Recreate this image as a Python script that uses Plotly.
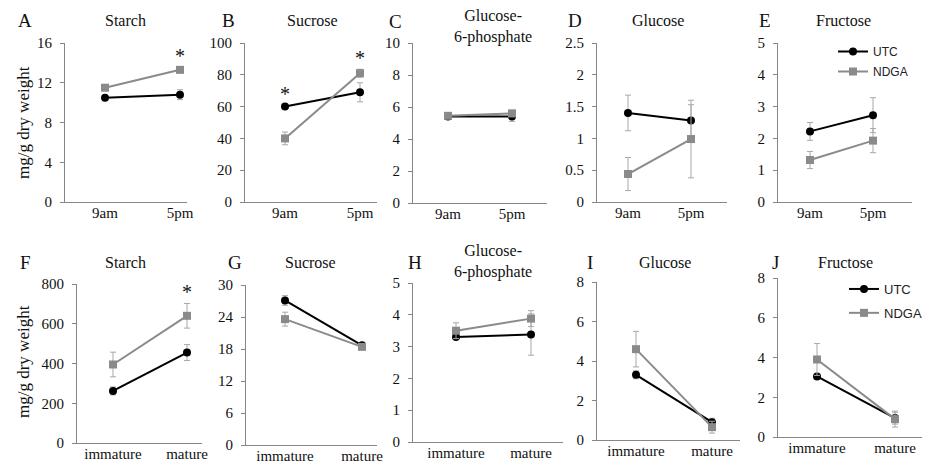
import plotly.graph_objects as go

# ---------------- data ----------------
PANELS = ["A", "B", "C", "D", "E", "F", "G", "H", "I", "J"]
TITLES = ["Starch", "Sucrose", "Glucose-<br>6-phosphate", "Glucose", "Fructose",
          "Starch", "Sucrose", "Glucose-<br>6-phosphate", "Glucose", "Fructose"]
CATS_TOP = ["9am", "5pm"]
CATS_BOTTOM = ["immature", "mature"]

UTC_MEAN = [[10.5, 10.8], [60, 69], [5.4, 5.4], [1.4, 1.28], [2.22, 2.73],
            [262, 455], [27.1, 18.7], [3.3, 3.38], [3.3, 0.9], [3.05, 0.95]]
UTC_ERR = [[0.2, 0.5], [1.0, 6.0], [0.15, 0.3], [0.28, 0.25], [0.28, 0.55],
           [20, 40], [0.9, 0.4], [0.05, 0.65], [0.2, 0.2], [0.1, 0.3]]
NDGA_MEAN = [[11.5, 13.3], [40, 81], [5.45, 5.6], [0.44, 0.99], [1.32, 1.93],
             [395, 640], [23.6, 18.4], [3.5, 3.88], [4.6, 0.65], [3.9, 0.9]]
NDGA_ERR = [[0.2, 0.3], [4.0, 2.5], [0.15, 0.2], [0.26, 0.61], [0.27, 0.38],
            [62, 62], [1.3, 0.5], [0.25, 0.25], [0.9, 0.3], [0.8, 0.4]]

Y_MAX = [16, 100, 10, 2.5, 5, 800, 30, 5, 8, 8]
Y_STEP = [4, 20, 2, 0.5, 1, 200, 6, 1, 2, 2]

# significance stars: (panel index, series, category index)
STARS = [(0, "NDGA", 1), (1, "UTC", 0), (1, "NDGA", 1), (5, "NDGA", 1)]

# ---------------- layout geometry (page pixels) ----------------
OFF = 8            # default page margin around the plot div
W, H = 930 - OFF, 470 - OFF
XDOM = [(65, 187), (245, 377), (413, 547), (597, 727), (778, 912),
        (77, 202), (246, 377), (413, 563), (597, 740), (778, 922)]
PTS = [(105, 180), (285, 360), (448, 512), (628, 691), (810, 873),
       (113, 187), (285, 362), (456, 531), (636, 712), (817, 895)]
YDOM = [(43, 202), (43, 202), (43, 203), (43, 202), (43, 202),
        (284, 443), (285, 445), (283, 442), (282, 440), (278, 437)]
LETTER_POS = [(25, 20), (228, 20), (395, 22), (575, 20), (765, 20),
              (25, 262), (235, 262), (415, 262), (590, 262), (775, 262)]
TITLE_POS = [(125, 20), (312, 20), (493, 27), (658, 20), (843, 20),
             (125, 262), (310, 262), (493, 261), (665, 262), (845, 262)]

SERIF = "Liberation Serif"
UTC_COLOR = "#000000"
NDGA_COLOR = "#8a8a8a"
ERR_COLOR = "#a8a8a8"
AXIS_COLOR = "#868686"


def fx(x):
    return (x - OFF) / W


def fy(y):
    return 1 - (y - OFF) / H


fig = go.Figure()
annotations = []

for i in range(10):
    ax = "" if i == 0 else str(i + 1)
    cats = CATS_TOP if i < 5 else CATS_BOTTOM
    legend_name = "legend" if i == 4 else ("legend2" if i == 9 else None)
    show = legend_name is not None
    series = [
        ("UTC", UTC_MEAN[i], UTC_ERR[i], UTC_COLOR, "circle"),
        ("NDGA", NDGA_MEAN[i], NDGA_ERR[i], NDGA_COLOR, "square"),
    ]
    for name, mean, err, color, symbol in series:
        tr = dict(
            x=[0, 1], y=mean, name=name, mode="lines+markers",
            line=dict(color=color, width=2),
            marker=dict(color=color, symbol=symbol, size=8),
            error_y=dict(type="data", array=err, visible=True,
                         color=ERR_COLOR, thickness=1, width=3),
            xaxis="x" + ax, yaxis="y" + ax,
            showlegend=show, hoverinfo="skip",
            legendgroup=name + str(i),
        )
        if show:
            tr["legend"] = legend_name
        fig.add_trace(go.Scatter(**tr))

    x0, x1 = XDOM[i]
    p0, p1 = PTS[i]
    u = p1 - p0
    yt, yb = YDOM[i]
    nt = int(round(Y_MAX[i] / Y_STEP[i]))
    tv = [k * Y_STEP[i] for k in range(nt + 1)]
    tt = [("%g" % v) for v in tv]

    fig.update_layout(**{
        "xaxis" + ax: dict(
            domain=[fx(x0), fx(x1)], range=[(x0 - p0) / u, (x1 - p0) / u],
            anchor="y" + ax, tickvals=[0, 1], ticktext=cats,
            showline=True, linecolor=AXIS_COLOR, linewidth=1,
            showgrid=False, zeroline=False, ticks="", automargin=False,
            ticklabelstandoff=-3,
            tickfont=dict(family=SERIF, size=15, color="#111"),
            fixedrange=True,
        ),
        "yaxis" + ax: dict(
            domain=[fy(yb), fy(yt)], range=[0, Y_MAX[i]],
            anchor="x" + ax, tickvals=tv, ticktext=tt,
            showline=True, linecolor=AXIS_COLOR, linewidth=1,
            showgrid=False, zeroline=False, ticks="outside", automargin=False,
            ticklen=4, tickcolor=AXIS_COLOR, ticklabelstandoff=5,
            tickfont=dict(family=SERIF, size=15, color="#111"),
            fixedrange=True,
        ),
    })

    lx, ly = LETTER_POS[i]
    annotations.append(dict(x=fx(lx), y=fy(ly), xref="paper", yref="paper",
                            xanchor="center", yanchor="middle",
                            text=PANELS[i], showarrow=False,
                            font=dict(family=SERIF, size=19, color="#111")))
    tx, ty = TITLE_POS[i]
    annotations.append(dict(x=fx(tx), y=fy(ty), xref="paper", yref="paper",
                            xanchor="center", yanchor="middle",
                            text=TITLES[i], showarrow=False,
                            font=dict(family=SERIF, size=16, color="#111")))

for pi, s, ci in STARS:
    mean = UTC_MEAN if s == "UTC" else NDGA_MEAN
    err = UTC_ERR if s == "UTC" else NDGA_ERR
    ax = "" if pi == 0 else str(pi + 1)
    annotations.append(dict(x=ci, y=mean[pi][ci] + err[pi][ci],
                            xref="x" + ax, yref="y" + ax, text="*",
                            xanchor="center", showarrow=False,
                            yanchor="bottom", yshift=-2,
                            font=dict(family=SERIF, size=20, color="#111")))

for y in (123, 362):
    annotations.append(dict(x=fx(23), y=fy(y), xref="paper", yref="paper",
                            xanchor="center", yanchor="middle",
                            text="mg/g dry weight", textangle=-90,
                            showarrow=False,
                            font=dict(family=SERIF, size=17, color="#111")))

legend_common = dict(bgcolor="rgba(0,0,0,0)", itemwidth=30,
                     xanchor="left", yanchor="top")
fig.update_layout(
    width=W, height=H,
    margin=dict(l=0, r=0, t=0, b=0, autoexpand=False),
    paper_bgcolor="white", plot_bgcolor="white",
    annotations=annotations,
    legend=dict(x=fx(833), y=fy(37), tracegroupgap=1,
                font=dict(family="Liberation Sans", size=12, color="#222"),
                **legend_common),
    legend2=dict(x=fx(844), y=fy(274), tracegroupgap=4,
                 font=dict(family="Liberation Sans", size=13, color="#222"),
                 **legend_common),
)

fig.write_html("out.html")
